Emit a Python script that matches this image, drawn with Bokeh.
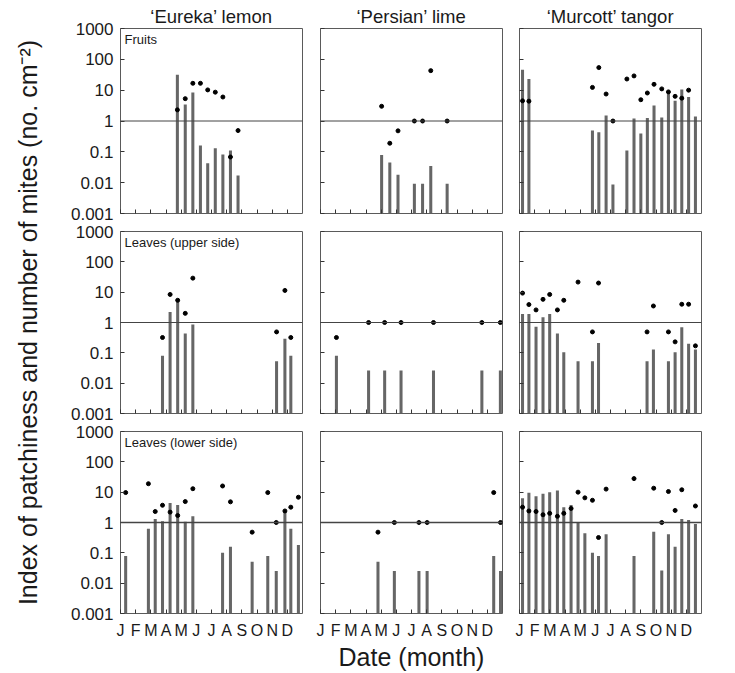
import math
from bokeh.plotting import figure
from bokeh.layouts import gridplot, row
from bokeh.models import (Range1d, FixedTicker, Span, Label, CustomJSTickFormatter,
                          ColumnDataSource)
from bokeh.embed import file_html
from bokeh.resources import INLINE

NAN = float("nan")
FONT = "Liberation Sans"

MONTH_TICKS = list(range(12))
MONTH_LABELS = ["J", "F", "M", "A", "M", "J", "J", "A", "S", "O", "N", "D"]
Y_TICKS = [0.001, 0.01, 0.1, 1, 10, 100, 1000]
CULTIVARS = ["\u2018Eureka\u2019 lemon", "\u2018Persian\u2019 lime", "\u2018Murcott\u2019 tangor"]
ORGANS = ["Fruits", "Leaves (upper side)", "Leaves (lower side)"]
Y_TITLE = "Index of patchiness and number of mites (no. cm\u207b\u00b2)"
X_TITLE = "Date (month)"

# ---- data: sampling date (months from 1 Jan), patchiness index (bars), mites (dots)
EUREKA_FRUIT_MONTH = [3.75, 4.27, 4.77, 5.27, 5.75, 6.25, 6.75, 7.25, 7.75]
EUREKA_FRUIT_INDEX = [31.6, 3.4, 8.4, 0.16, 0.043, 0.13, 0.082, 0.11, 0.017]
EUREKA_FRUIT_MITES = [2.3, 5.3, 16.7, 16.7, 10.2, 8.6, 6.0, 0.068, 0.49]

PERSIAN_FRUIT_MONTH = [4.03, 4.57, 5.11, 6.19, 6.73, 7.27, 8.35]
PERSIAN_FRUIT_INDEX = [0.079, 0.045, 0.018, 0.0093, 0.0093, 0.035, 0.0093]
PERSIAN_FRUIT_MITES = [3.0, 0.19, 0.48, 1, 1, 43, 1]

MURCOTT_FRUIT_MONTH = [0.20, 0.62, 4.81, 5.23, 5.71, 6.16, 7.08, 7.55, 8.00, 8.43, 8.87,
                       9.38, 9.82, 10.26, 10.70, 11.15, 11.60]
MURCOTT_FRUIT_INDEX = [46, 23, 0.49, 0.43, 1.5, 0.0088, 0.11, 1.2, 0.39, 1.26, 3.2,
                       1.3, 9.5, 4.5, 10.5, 6.0, 1.4]
MURCOTT_FRUIT_MITES = [4.5, 4.4, 12.3, 54, 7.5, 1.0, 23, 29, 4.9, 8.1, 15.5,
                       11, 8.8, 6.3, 5.5, 10, NAN]

EUREKA_UPPER_MONTH = [2.77, 3.27, 3.77, 4.27, 4.77, 10.29, 10.84, 11.23]
EUREKA_UPPER_INDEX = [0.08, 2.2, 5.5, 0.43, 0.86, 0.053, 0.29, 0.08]
EUREKA_UPPER_MITES = [0.32, 8.4, 5.4, 2.0, 29, 0.49, 11.4, 0.32]

PERSIAN_UPPER_MONTH = [1.05, 3.17, 4.23, 5.31, 7.45, 10.64, 11.86]
PERSIAN_UPPER_INDEX = [0.08, 0.026, 0.026, 0.026, 0.026, 0.026, 0.026]
PERSIAN_UPPER_MITES = [0.32, 1, 1, 1, 1, 1, 1]

MURCOTT_UPPER_MONTH = [0.20, 0.62, 1.09, 1.55, 1.99, 2.50, 2.92, 3.86, 4.81, 5.21, 8.41,
                       8.83, 9.82, 10.26, 10.70, 11.15, 11.60]
MURCOTT_UPPER_INDEX = [1.9, 1.9, 0.72, 1.5, 1.9, 0.43, 0.105, 0.053, 0.053, 0.21, 0.053,
                       0.13, 0.053, 0.105, 0.7, 0.2, 0.13]
MURCOTT_UPPER_MITES = [9.3, 3.9, 2.6, 5.8, 8.4, 2.6, 5.4, 21.5, 0.49, 20, 0.49,
                       3.5, 0.49, 0.23, 4, 4, 0.17]

EUREKA_LOWER_MONTH = [0.34, 1.84, 2.29, 2.77, 3.27, 3.77, 4.27, 4.77, 6.73, 7.25, 8.68,
                      9.71, 10.27, 10.84, 11.23, 11.73]
EUREKA_LOWER_INDEX = [0.078, 0.62, 1.3, 1.1, 4.4, 3.8, 1.05, 1.6, 0.1, 0.16, 0.051,
                      0.078, 0.025, 2.4, 0.62, 0.18]
EUREKA_LOWER_MITES = [9.7, 19, 2.3, 3.7, 2.2, 1.7, 4.9, 13, 16, 4.8, 0.48,
                      9.7, 1.0, 2.4, 3.2, 6.8]

PERSIAN_LOWER_MONTH = [3.79, 4.87, 6.49, 7.03, 11.42, 11.87]
PERSIAN_LOWER_INDEX = [0.051, 0.025, 0.025, 0.025, 0.078, 0.025]
PERSIAN_LOWER_MITES = [0.48, 1, 1, 1, 9.7, 1]

MURCOTT_LOWER_MONTH = [0.20, 0.62, 1.09, 1.55, 1.99, 2.50, 2.92, 3.40, 3.86, 4.31, 4.81,
                       5.21, 5.71, 7.55, 8.85, 9.38, 9.82, 10.26, 10.70, 11.15, 11.60]
MURCOTT_LOWER_INDEX = [6.3, 9.5, 7.4, 8.8, 10, 11.4, 3.2, 3.8, 0.98, 0.44, 0.1,
                       0.078, 0.41, 0.078, 0.5, 0.026, 0.41, 0.16, 1.3, 1.2, 0.9]
MURCOTT_LOWER_MITES = [3.2, 2.4, 2.3, 1.8, 2.0, 1.6, 2.0, 2.9, 10, 6.5, 5.4,
                       0.32, 12.6, 28, 13.5, 1.0, 10.5, 2.5, 12, NAN, 3.5]

PANELS = [
    [(EUREKA_FRUIT_MONTH, EUREKA_FRUIT_INDEX, EUREKA_FRUIT_MITES),
     (PERSIAN_FRUIT_MONTH, PERSIAN_FRUIT_INDEX, PERSIAN_FRUIT_MITES),
     (MURCOTT_FRUIT_MONTH, MURCOTT_FRUIT_INDEX, MURCOTT_FRUIT_MITES)],
    [(EUREKA_UPPER_MONTH, EUREKA_UPPER_INDEX, EUREKA_UPPER_MITES),
     (PERSIAN_UPPER_MONTH, PERSIAN_UPPER_INDEX, PERSIAN_UPPER_MITES),
     (MURCOTT_UPPER_MONTH, MURCOTT_UPPER_INDEX, MURCOTT_UPPER_MITES)],
    [(EUREKA_LOWER_MONTH, EUREKA_LOWER_INDEX, EUREKA_LOWER_MITES),
     (PERSIAN_LOWER_MONTH, PERSIAN_LOWER_INDEX, PERSIAN_LOWER_MITES),
     (MURCOTT_LOWER_MONTH, MURCOTT_LOWER_INDEX, MURCOTT_LOWER_MITES)],
]

# ---- layout / style
FW = 182
FH = [185, 182, 182]
BORDER_L = [67, 9, 9]
BORDER_R = [9, 8, 10]
BORDER_T = [28, 9, 9]
BORDER_B = [9, 9, 58]
BAR_COLOR = "#666666"
FRAME_COLOR = "#5a5a5a"
TEXT_COLOR = "#1a1a1a"

grid = []
for r in range(3):
    row_figs = []
    for c in range(3):
        months, index, mites = PANELS[r][c]
        p = figure(frame_width=FW, frame_height=FH[r], y_axis_type="log",
                   x_range=Range1d(0, 12), y_range=Range1d(0.001, 1000),
                   min_border_left=BORDER_L[c], min_border_right=BORDER_R[c],
                   min_border_top=BORDER_T[r], min_border_bottom=BORDER_B[r],
                   toolbar_location=None, output_backend="svg")
        p.xgrid.visible = False
        p.ygrid.visible = False
        p.outline_line_color = FRAME_COLOR
        p.outline_line_width = 1
        p.background_fill_color = "white"
        p.border_fill_color = "white"

        for ax in (p.xaxis[0], p.yaxis[0]):
            ax.axis_line_color = None
            ax.major_tick_in = 4
            ax.major_tick_out = 0
            ax.minor_tick_in = 0
            ax.minor_tick_out = 0
            ax.major_tick_line_color = "#333333"
            ax.major_label_text_font = FONT
            ax.major_label_text_color = TEXT_COLOR

        p.xaxis.ticker = FixedTicker(ticks=MONTH_TICKS, minor_ticks=[])
        p.yaxis.ticker = FixedTicker(ticks=Y_TICKS, minor_ticks=[])

        if r == 2:
            p.xaxis.major_label_overrides = {t: lab for t, lab in zip(MONTH_TICKS, MONTH_LABELS)}
            p.xaxis.major_label_text_font_size = "16px"
            p.xaxis.major_label_standoff = 8
        else:
            p.xaxis.formatter = CustomJSTickFormatter(code="return '';")
            p.xaxis.major_label_standoff = 0
            p.xaxis.major_label_text_font_size = "1px"

        if c == 0:
            p.yaxis.formatter = CustomJSTickFormatter(
                code="return String(Number(tick.toPrecision(3)));")
            p.yaxis.major_label_text_font_size = "17px"
            p.yaxis.major_label_standoff = 7
        else:
            p.yaxis.formatter = CustomJSTickFormatter(code="return '';")
            p.yaxis.major_label_standoff = 0
            p.yaxis.major_label_text_font_size = "1px"

        if r == 2 and c == 1:
            p.xaxis.axis_label = X_TITLE
            p.xaxis.axis_label_text_font = FONT
            p.xaxis.axis_label_text_font_size = "25px"
            p.xaxis.axis_label_text_font_style = "normal"
            p.xaxis.axis_label_text_color = TEXT_COLOR
            p.xaxis.axis_label_standoff = 1

        if r == 0:
            p.title.text = CULTIVARS[c]
            p.title.align = "center"
            p.title.text_font = FONT
            p.title.text_font_size = "18.5px"
            p.title.text_font_style = "normal"
            p.title.text_color = TEXT_COLOR
            p.title.standoff = 4
            p.title.offset = 0

        src = ColumnDataSource(dict(m=months, idx=index, mites=mites))
        p.vbar(x="m", top="idx", bottom=0.001, width=0.2, source=src,
               fill_color=BAR_COLOR, line_color=None)
        p.add_layout(Span(location=1, dimension="width", line_color="#444444",
                          line_width=1.6 if r == 2 else 1))
        p.scatter(x="m", y="mites", size=4, color="black", source=src)

        if c == 0:
            p.add_layout(Label(x=0, y=1000, x_offset=4, y_offset=-3, text=ORGANS[r],
                               text_font=FONT, text_font_size="13px", text_baseline="top",
                               text_color=TEXT_COLOR))
        row_figs.append(p)
    grid.append(row_figs)

gp = gridplot(grid, toolbar_location=None)

total_h = sum(BORDER_T) + sum(BORDER_B) + sum(FH)
ytitle = figure(width=53, height=total_h, x_range=Range1d(0, 1), y_range=Range1d(0, 1),
                min_border=0, toolbar_location=None, output_backend="svg",
                x_axis_location=None, y_axis_location=None)
ytitle.xgrid.visible = False
ytitle.ygrid.visible = False
ytitle.outline_line_color = None
ytitle.add_layout(Label(x=27, y=total_h - (BORDER_T[0] + FH[0] + BORDER_B[0] + BORDER_T[1] + FH[1] / 2),
                        x_units="screen", y_units="screen", angle=90, angle_units="deg",
                        text=Y_TITLE, text_font=FONT, text_font_size="25px",
                        text_align="center", text_baseline="middle", text_color=TEXT_COLOR))

layout = row(ytitle, gp)
open("out.html", "w").write(file_html(layout, INLINE))
